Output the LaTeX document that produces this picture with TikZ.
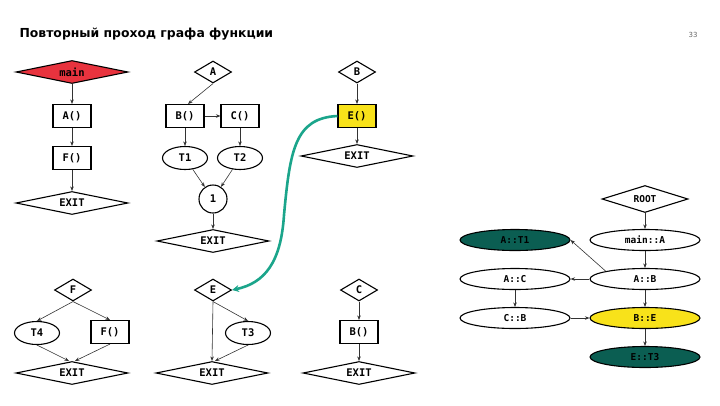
\documentclass[tikz,border=0pt]{standalone}
\usepackage{fontspec}
\setmainfont{DejaVu Sans}
\setmonofont{DejaVu Sans Mono}
\usepackage{xcolor}
\usetikzlibrary{shapes.geometric, arrows.meta}

\definecolor{mainred}{HTML}{E8333E}
\definecolor{hlyellow}{HTML}{F8E21A}
\definecolor{leafgreen}{HTML}{0B5E52}
\definecolor{jumpteal}{HTML}{1BA58B}

\begin{document}
\begin{tikzpicture}[x=1pt, y=-1pt,
    every node/.style={draw, line width=1.1pt, inner sep=1pt, font=\ttfamily\bfseries\fontsize{10.5}{12}\selectfont},
    ent/.style={diamond, minimum width=37pt, minimum height=22pt, shape aspect=1.6},
    exit/.style={diamond, minimum width=112pt, minimum height=23pt, shape aspect=5},
    fn/.style={rectangle, minimum width=38pt, minimum height=23pt},
    blk/.style={ellipse, minimum width=45pt, minimum height=23pt},
    ctx/.style={ellipse, minimum width=110pt, minimum height=21pt, font=\ttfamily\bfseries\fontsize{9.5}{11}\selectfont},
    arr/.style={-{Stealth[length=4.5pt, width=3.5pt]}, line width=0.6pt, black!80}]
    \useasboundingbox (0,0) rectangle (720,405);

    \node[draw=none, anchor=base west, font=\bfseries\fontsize{12.4}{15}\selectfont] (title) at (18,37) {Повторный проход графа функции};
    \node[draw=none, anchor=base east, text=black!60, font=\fontsize{7}{8}\selectfont] (page) at (699,37) {33};

    % main
    \node[exit, fill=mainred] (m) at (72,72) {main};
    \node[fn] (ma) at (72,116) {A()};
    \node[fn] (mf) at (72,158) {F()};
    \node[exit] (mx) at (72,203) {EXIT};

    \draw[arr] (m) -- (ma);
    \draw[arr] (ma) -- (mf);
    \draw[arr] (mf) -- (mx);

    % A
    \node[ent] (a) at (213,72) {A};
    \node[fn] (ab) at (185,116) {B()};
    \node[fn] (ac) at (240,116) {C()};
    \node[blk] (at1) at (185,158) {T1};
    \node[blk] (at2) at (240,158) {T2};
    \node[circle, minimum size=28pt] (a1) at (213,199) {1};
    \node[exit] (ax) at (213,241) {EXIT};

    \draw[arr] (a.south) -- ([xshift=3pt]ab.north);
    \draw[arr] (ab) -- (ac);
    \draw[arr] (ab) -- (at1);
    \draw[arr] (ac) -- (at2);
    \draw[arr] (at1) -- (a1);
    \draw[arr] (at2) -- (a1);
    \draw[arr] (a1) -- (ax);

    % B
    \node[ent] (b) at (357,72) {B};
    \node[fn, fill=hlyellow] (be) at (357,116) {E()};
    \node[exit] (bx) at (357,156) {EXIT};

    \draw[arr] (b) -- (be);
    \draw[arr] (be) -- (bx);

    % F
    \node[ent] (f) at (73,290) {F};
    \node[blk] (ft4) at (37,333) {T4};
    \node[fn] (ff) at (110,332) {F()};
    \node[exit] (fx) at (72,373) {EXIT};

    \draw[arr] (f.south) -- (ft4.north);
    \draw[arr] (f.south) -- (ff.north);
    \draw[arr] (ft4.south) -- ([xshift=-3pt]fx.north);
    \draw[arr] (ff.south) -- ([xshift=3pt]fx.north);

    % E
    \node[ent] (e) at (213,290) {E};
    \node[blk] (et3) at (248,333) {T3};
    \node[exit] (ex) at (212,373) {EXIT};

    \draw[arr] (e.south) -- (ex.north);
    \draw[arr] (e.south) -- (et3.north);
    \draw[arr] (et3.south) -- ([xshift=3pt]ex.north);

    % C
    \node[ent] (c) at (359,290) {C};
    \node[fn] (cb) at (359,332) {B()};
    \node[exit] (cx) at (359,373) {EXIT};

    \draw[arr] (c) -- (cb);
    \draw[arr] (cb) -- (cx);

    % jump from E() to E
    \draw[jumpteal, line width=2.6pt, -{Stealth[length=7pt, width=7pt]}]
        (be.west) .. controls (295,118) and (290,150) .. (284,215)
        .. controls (281,262) and (265,283) .. (e.east);

    % context tree
    \node[diamond, minimum width=86pt, minimum height=27pt, shape aspect=4, font=\ttfamily\bfseries\fontsize{9.5}{11}\selectfont] (root) at (645,199) {ROOT};
    \node[ctx] (rmain) at (645,240) {main::A};
    \node[ctx, fill=leafgreen] (rat1) at (515,240) {A::T1};
    \node[ctx] (rab) at (645,279) {A::B};
    \node[ctx] (rac) at (515,279) {A::C};
    \node[ctx] (rcb) at (515,318) {C::B};
    \node[ctx, fill=hlyellow] (rbe) at (645,318) {B::E};
    \node[ctx, fill=leafgreen] (ret3) at (645,357) {E::T3};

    \draw[arr] (root) -- (rmain);
    \draw[arr] (rmain) -- (rab);
    \draw[arr] (rab.north west) -- (rat1.east);
    \draw[arr] (rab) -- (rac);
    \draw[arr] (rac) -- (rcb);
    \draw[arr] (rcb) -- (rbe);
    \draw[arr] (rab) -- (rbe);
    \draw[arr] (rbe) -- (ret3);
\end{tikzpicture}
\end{document}
